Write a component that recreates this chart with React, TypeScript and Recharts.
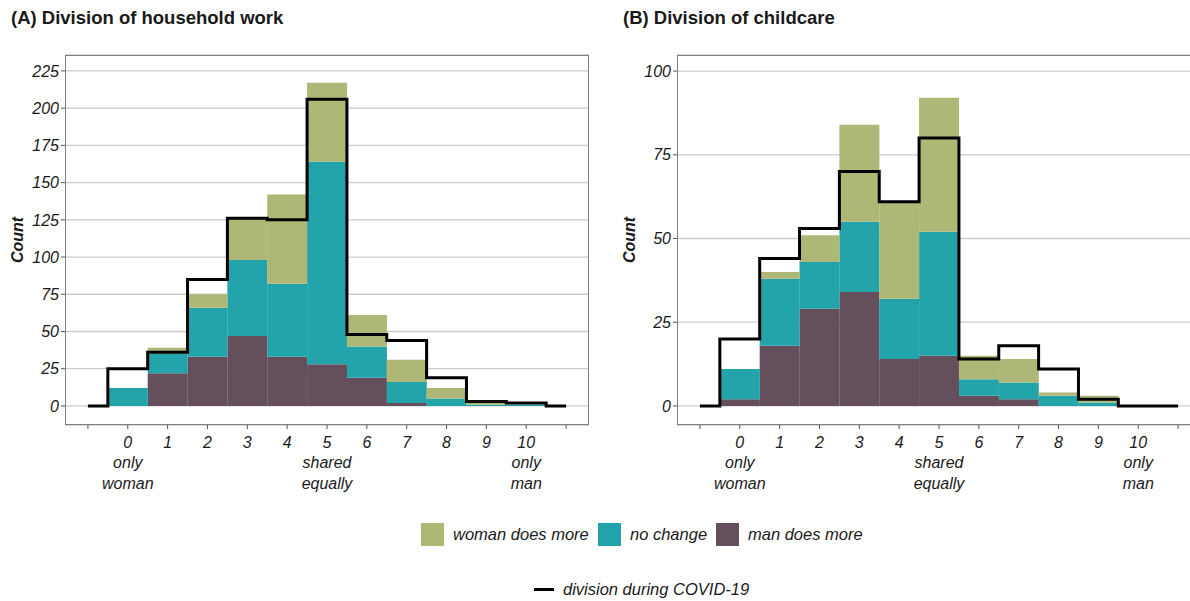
import React from 'react';
import { ComposedChart, Bar, Line, XAxis, YAxis, CartesianGrid } from 'recharts';

// scale points -1 and 11 are empty padding categories
const categories = [-1, 0, 1, 2, 3, 4, 5, 6, 7, 8, 9, 10, 11];
const scaleLabels: Record<number, string[]> = {
  0: ['only', 'woman'],
  5: ['shared', 'equally'],
  10: ['only', 'man'],
};

const seriesNames = ['woman does more', 'no change', 'man does more'];
const seriesColors = ['#aeb775', '#22a4aa', '#654f5c'];
const lineName = 'division during COVID-19';

// (A) household work
const houseMan = [0, 0, 22, 33, 47, 33, 28, 19, 2, 0, 0, 0, 0];
const houseNoChange = [0, 12, 13, 33, 51, 49, 136, 21, 14, 5, 1, 1, 0];
const houseWoman = [0, 0, 4, 9, 28, 60, 53, 21, 15, 7, 1, 0, 0];
const houseCovid = [0, 25, 36, 85, 126, 125, 206, 48, 44, 19, 3, 2, 0];
const houseTicks = [0, 25, 50, 75, 100, 125, 150, 175, 200, 225];

// (B) childcare
const careMan = [0, 2, 18, 29, 34, 14, 15, 3, 2, 0, 0, 0, 0];
const careNoChange = [0, 9, 20, 14, 21, 18, 37, 5, 5, 3, 1, 0, 0];
const careWoman = [0, 0, 2, 8, 29, 29, 40, 7, 7, 1, 2, 0, 0];
const careCovid = [0, 20, 44, 53, 70, 61, 80, 14, 18, 11, 2, 0, 0];
const careTicks = [0, 25, 50, 75, 100];

const FONT = '"Liberation Sans", Arial, Helvetica, sans-serif';
const TEXT = '#1a1a1a';

const buildRows = (man: number[], none: number[], woman: number[], covid: number[]) =>
  categories.map((c, i) => ({ cat: c, man: man[i], none: none[i], woman: woman[i], covid: covid[i] }));

function ScaleTick(props: any) {
  const { x, y, payload } = props;
  const v = payload.value;
  if (v < 0 || v > 10) return null;
  const extra = scaleLabels[v] || [];
  return (
    <g>
      <text x={x} y={y + 17} textAnchor="middle" fontSize={16} fontStyle="italic" fill={TEXT} fontFamily={FONT}>
        {v}
      </text>
      {extra.map((s, i) => (
        <text key={s + i} x={x} y={y + 36.5 + i * 21} textAnchor="middle" fontSize={16} fontStyle="italic" fill={TEXT} fontFamily={FONT}>
          {s}
        </text>
      ))}
    </g>
  );
}

function Panel({ left, title, rows, domain, ticks }: any) {
  return (
    <>
      <div style={{ position: 'absolute', left: left + 11, top: 7, fontSize: 18.5, fontWeight: 'bold', color: TEXT, whiteSpace: 'nowrap' }}>
        {title}
      </div>
      <div
        style={{
          position: 'absolute',
          left: left + 18,
          top: 240,
          transform: 'translate(-50%, -50%) rotate(-90deg)',
          fontSize: 16,
          fontWeight: 'bold',
          fontStyle: 'italic',
          color: TEXT,
        }}
      >
        Count
      </div>
      <div style={{ position: 'absolute', left: left, top: 0 }}>
        <ComposedChart
          width={600}
          height={601}
          data={rows}
          margin={{ top: 55, right: 11, bottom: 96, left: 5 }}
          barCategoryGap={0}
          barGap={0}
        >
          <CartesianGrid vertical={false} stroke="#cbcbcb" strokeWidth={1.3} />
          <XAxis
            dataKey="cat"
            type="category"
            interval={0}
            height={80}
            padding={{ left: 3, right: 3 }}
            axisLine={false}
            tickSize={4}
            tickLine={{ stroke: '#555' }}
            tick={<ScaleTick />}
          />
          <YAxis
            type="number"
            width={60}
            domain={domain}
            ticks={ticks}
            allowDataOverflow
            axisLine={false}
            tickSize={4}
            tickLine={{ stroke: '#555' }}
            tick={{ fontSize: 16, fontStyle: 'italic', fill: TEXT, fontFamily: FONT }}
          />
          <Bar dataKey="man" stackId="s" fill={seriesColors[2]} isAnimationActive={false} />
          <Bar dataKey="none" stackId="s" fill={seriesColors[1]} isAnimationActive={false} />
          <Bar dataKey="woman" stackId="s" fill={seriesColors[0]} isAnimationActive={false} />
          <Line type="step" dataKey="covid" stroke="#000" strokeWidth={3} dot={false} activeDot={false} isAnimationActive={false} />
        </ComposedChart>
      </div>
      <div
        style={{
          position: 'absolute',
          left: left + 65,
          top: 55,
          width: 524,
          height: 370,
          border: '1.3px solid #808080',
          boxSizing: 'border-box',
          pointerEvents: 'none',
        }}
      />
    </>
  );
}

export default function App() {
  const houseRows = buildRows(houseMan, houseNoChange, houseWoman, houseCovid);
  const careRows = buildRows(careMan, careNoChange, careWoman, careCovid);
  const legendX = [421, 598, 716];

  return (
    <div
      style={{
        position: 'fixed',
        left: 0,
        top: 0,
        width: 1190,
        height: 601,
        overflow: 'hidden',
        background: '#fff',
        fontFamily: FONT,
      }}
    >
      <Panel left={0} title="(A) Division of household work" rows={houseRows} domain={[-12.8, 235.7]} ticks={houseTicks} />
      <Panel left={612} title="(B) Division of childcare" rows={careRows} domain={[-5.7, 104.8]} ticks={careTicks} />

      {/* legend */}
      {seriesNames.map((name, i) => (
        <div key={name} style={{ position: 'absolute', left: legendX[i], top: 523, display: 'flex', alignItems: 'center', height: 23 }}>
          <div style={{ width: 23, height: 23, background: seriesColors[i] }} />
          <span style={{ marginLeft: 9, fontSize: 16.5, fontStyle: 'italic', color: TEXT, whiteSpace: 'nowrap' }}>{name}</span>
        </div>
      ))}
      <div style={{ position: 'absolute', left: 534, top: 578, display: 'flex', alignItems: 'center', height: 23 }}>
        <div style={{ width: 20, height: 3.5, background: '#000' }} />
        <span style={{ marginLeft: 9, fontSize: 16.5, fontStyle: 'italic', color: TEXT, whiteSpace: 'nowrap' }}>{lineName}</span>
      </div>
    </div>
  );
}
